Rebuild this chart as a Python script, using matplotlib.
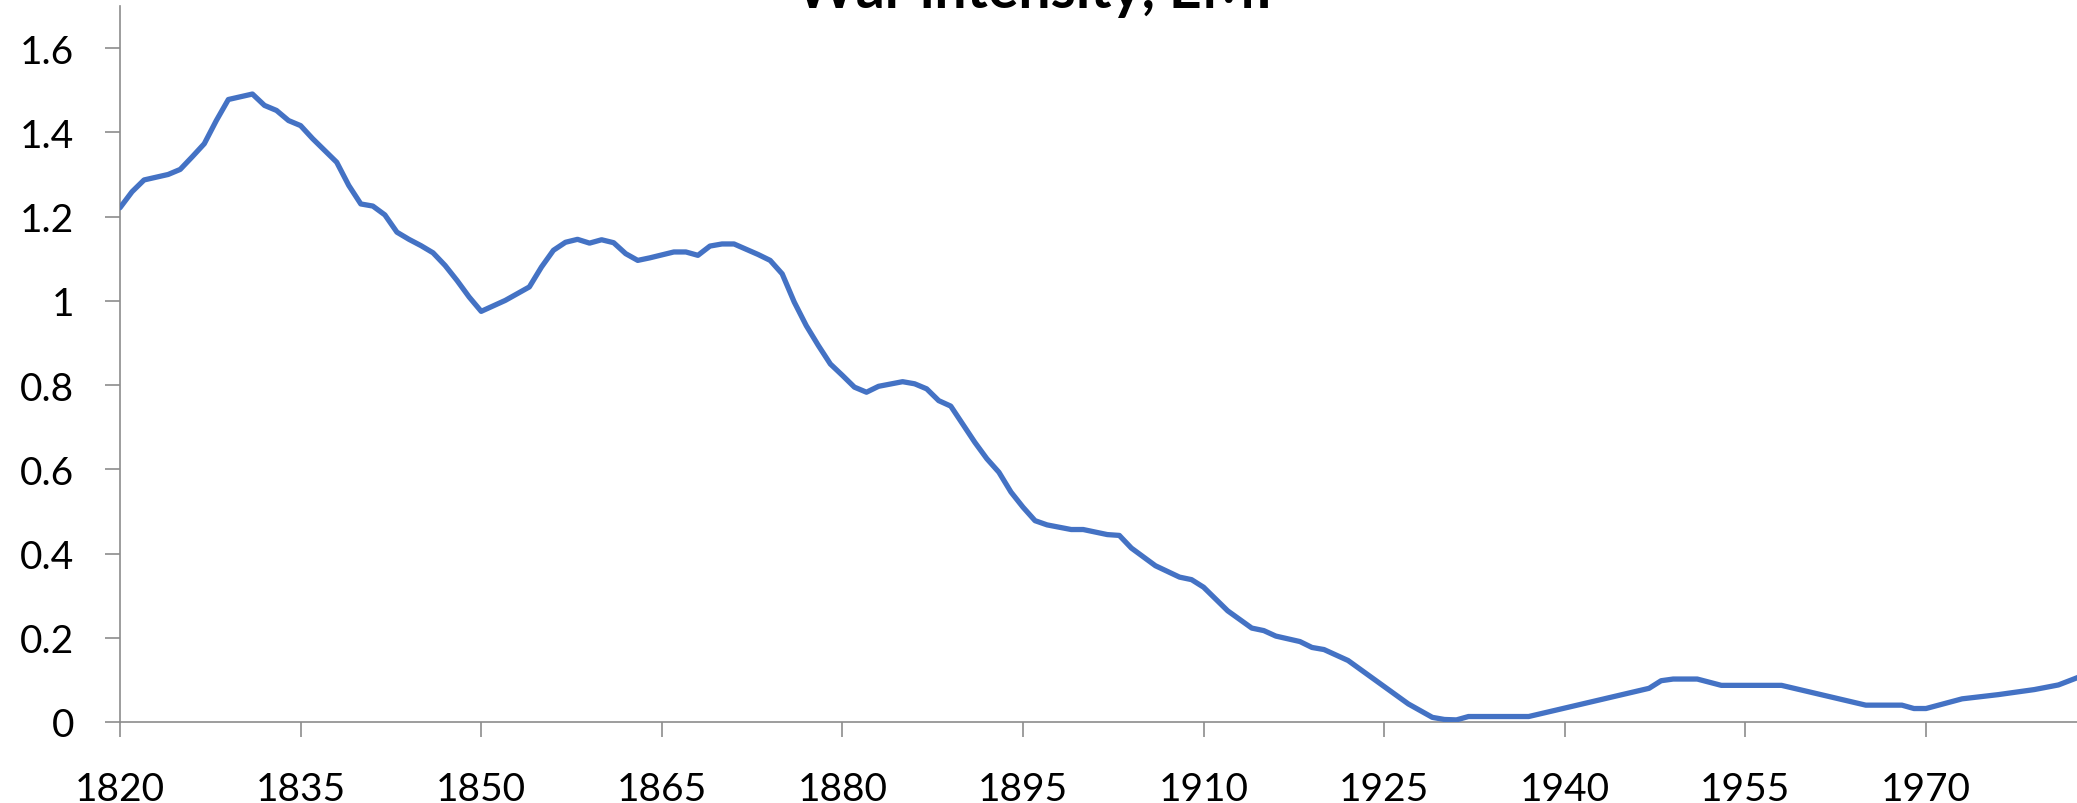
import numpy as np
import matplotlib
matplotlib.use('Agg')
import matplotlib.pyplot as plt

plt.rcParams['font.family'] = ['Lato', 'DejaVu Sans']

# data (smoothed war intensity, EMP)
years = [1820, 1821, 1822, 1824, 1825, 1826, 1827, 1828, 1829, 1831,
         1832, 1833, 1834, 1835, 1836, 1838, 1839, 1840, 1841, 1842,
         1843, 1844, 1845, 1846, 1847, 1848, 1849, 1850, 1852, 1853,
         1854, 1855, 1856, 1857, 1858, 1859, 1860, 1861, 1862, 1863,
         1864, 1865, 1866, 1867, 1868, 1869, 1870, 1871, 1873, 1874,
         1875, 1876, 1877, 1878, 1879, 1880, 1881, 1882, 1883, 1885,
         1886, 1887, 1888, 1889, 1891, 1892, 1893, 1894, 1895, 1896,
         1897, 1899, 1900, 1902, 1903, 1904, 1906, 1908, 1909, 1910,
         1912, 1914, 1915, 1916, 1918, 1919, 1920, 1922, 1927, 1929,
         1930, 1931, 1932, 1937, 1947, 1948, 1949, 1951, 1953, 1958,
         1965, 1968, 1969, 1970, 1973, 1976, 1979, 1981, 1983]
intensity = [1.221, 1.259, 1.287, 1.300, 1.312, 1.342, 1.373, 1.428, 1.478, 1.491,
             1.464, 1.452, 1.428, 1.416, 1.385, 1.329, 1.274, 1.230, 1.225, 1.204,
             1.163, 1.146, 1.131, 1.114, 1.084, 1.048, 1.009, 0.975, 1.001, 1.017,
             1.033, 1.080, 1.120, 1.139, 1.146, 1.137, 1.145, 1.138, 1.112, 1.096,
             1.102, 1.109, 1.116, 1.116, 1.108, 1.130, 1.135, 1.135, 1.110, 1.096,
             1.064, 0.997, 0.941, 0.894, 0.850, 0.823, 0.795, 0.783, 0.797, 0.808,
             0.803, 0.791, 0.763, 0.750, 0.664, 0.625, 0.593, 0.546, 0.510, 0.478,
             0.468, 0.457, 0.457, 0.445, 0.443, 0.413, 0.371, 0.344, 0.338, 0.320,
             0.264, 0.223, 0.217, 0.204, 0.191, 0.177, 0.172, 0.146, 0.043, 0.011,
             0.006, 0.005, 0.013, 0.013, 0.080, 0.098, 0.102, 0.102, 0.087, 0.087,
             0.040, 0.040, 0.032, 0.032, 0.055, 0.065, 0.077, 0.088, 0.110]

xticks = np.arange(1820, 1971, 15)
yticks = [0, 0.2, 0.4, 0.6, 0.8, 1.0, 1.2, 1.4, 1.6]
ytick_labels = ['0', '0.2', '0.4', '0.6', '0.8', '1', '1.2', '1.4', '1.6']

axis_col = '#8c8c8c'
line_col = '#4472c4'

fig = plt.figure(figsize=(20.77, 8.04), dpi=100)
ax = fig.add_axes([120 / 2077, 81 / 804, 1957 / 2077, 716 / 804])

ax.plot(years, intensity, color=line_col, linewidth=3.8,
        solid_joinstyle='round', solid_capstyle='round', zorder=3)

ax.set_xlim(1820, 1820 + 1957 / 12.04)
ax.set_ylim(0, 1.7)
ax.set_xticks(xticks)
ax.set_xticklabels([str(x) for x in xticks])
ax.set_yticks(yticks)
ax.set_yticklabels(ytick_labels)

for side in ['top', 'right']:
    ax.spines[side].set_visible(False)
for side in ['left', 'bottom']:
    ax.spines[side].set_color(axis_col)
    ax.spines[side].set_linewidth(1.2)

ax.tick_params(axis='both', direction='out', length=11, width=1.2,
               color=axis_col, labelsize=28, labelcolor='black')
ax.tick_params(axis='x', pad=24)
ax.tick_params(axis='y', pad=22)

# title sits mostly above the visible area, as in the reference
fig.text(1043 / 2077, 1 - 8 / 804, 'War intensity, EMP', ha='center',
         va='baseline', fontsize=41, fontweight='bold')

fig.savefig('out.png', dpi=100)
